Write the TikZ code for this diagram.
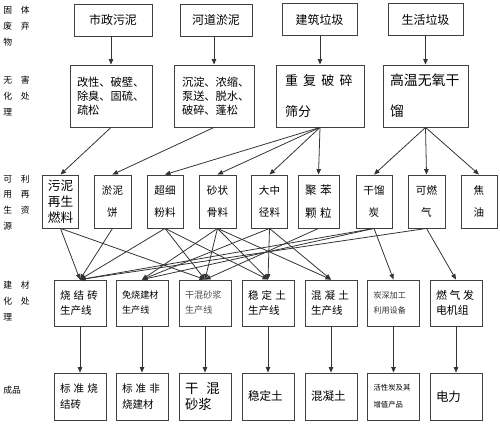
\documentclass[tikz,border=0pt]{standalone}
\usepackage{fontspec}
\setmainfont{Noto Sans CJK SC}
\usetikzlibrary{arrows.meta}
\newcommand{\gp}{\hspace{0.3em}}
\tikzset{
  box/.style={draw=black!75, line width=0.5pt, inner ysep=0pt, inner xsep=0.14cm},
  kwaste/.style={box, minimum width=1.50cm, minimum height=0.64cm, font=\fontsize{6.8}{8}\selectfont},
  ktreat/.style={box, align=left, text width=#1, minimum height=1.24cm, font=\fontsize{6.4}{8}\selectfont},
  kres/.style={box, align=center, inner xsep=0pt, minimum width=0.72cm, minimum height=1.06cm, font=\fontsize{6}{13}\selectfont},
  kline/.style={box, align=left, inner xsep=0.12cm, text width=0.80cm, minimum height=0.92cm, font=\fontsize{6}{8.5}\selectfont},
  kprod/.style={kline, minimum height=0.94cm, font=\fontsize{6}{9.6}\selectfont},
  klabel/.style={align=left, inner sep=0pt, font=\fontsize{5}{9}\selectfont},
  flow/.style={-{Triangle[length=1.1mm, width=0.9mm]}, line width=0.45pt, draw=black!80},
}

\begin{document}
\begin{tikzpicture}
    \useasboundingbox (0,0) rectangle (10.00,8.50);
    % row labels
    \node[klabel, anchor=west] (l1) at (0.06,7.98) {固\hspace{1em}体\\废\hspace{1em}弃\\物};
    \node[klabel, anchor=west] (l2) at (0.06,6.58) {无\hspace{1em}害\\化\hspace{1em}处\\理};
    \node[klabel, anchor=west] (l3) at (0.06,4.45) {可\hspace{1em}利\\用\hspace{1em}再\\生\hspace{1em}资\\源};
    \node[klabel, anchor=west] (l4) at (0.06,2.48) {建\hspace{1em}材\\化\hspace{1em}处\\理};
    \node[klabel, anchor=west] (l5) at (0.06,0.70) {成品};
    % solid waste
    \node[kwaste, minimum width=1.56cm] (sz) at (2.26,8.10) {市政污泥};
    \node[kwaste, minimum width=1.44cm] (hd) at (4.32,8.10) {河道淤泥};
    \node[kwaste] (jz) at (6.39,8.11) {建筑垃圾};
    \node[kwaste] (sh) at (8.51,8.11) {生活垃圾};
    % harmless treatment
    \node[ktreat=1.36cm] (gx) at (2.22,6.58) {改性、破壁、\\除臭、固硫、\\疏松};
    \node[ktreat=1.28cm, inner xsep=0.16cm] (cd) at (4.28,6.58) {沉淀、浓缩、\\泵送、脱水、\\破碎、蓬松};
    \node[ktreat=1.40cm, font=\fontsize{7.4}{17.6}\selectfont, inner xsep=0.18cm] (pc) at (6.40,6.58) {重\hspace{0.4em}复\hspace{0.4em}破\hspace{0.4em}碎\\筛分};
    \node[ktreat=1.42cm, font=\fontsize{7.9}{17.6}\selectfont] (gw) at (8.51,6.58) {高温无氧干\\馏};
    % recyclable resources
    \node[kres, font=\fontsize{7.2}{9}\selectfont] (r1) at (1.21,4.47) {污泥\\再生\\燃料};
    \node[kres, minimum width=0.74cm] (r2) at (2.25,4.47) {淤泥\\饼};
    \node[kres] (r3) at (3.30,4.47) {超细\\粉料};
    \node[kres, minimum width=0.74cm] (r4) at (4.35,4.47) {砂状\\骨料};
    \node[kres] (r5) at (5.39,4.47) {大中\\径料};
    \node[kres, minimum width=0.82cm, font=\fontsize{6.6}{13}\selectfont] (r6) at (6.37,4.47) {聚\gp 苯\\颗\gp 粒};
    \node[kres] (r7) at (7.48,4.47) {干馏\\炭};
    \node[kres, minimum width=0.74cm] (r8) at (8.53,4.47) {可燃\\气};
    \node[kres] (r9) at (9.58,4.47) {焦\\油};
    % building material lines
    \node[kline] (p1) at (1.60,2.44) {烧\gp 结\gp 砖\\生产线};
    \node[kline, font=\fontsize{5.2}{8.5}\selectfont] (p2) at (2.84,2.44) {免烧建材\\生产线};
    \node[kline, font=\fontsize{5.2}{8.5}\selectfont, text=black!70] (p3) at (4.10,2.44) {干混砂浆\\生产线};
    \node[kline] (p4) at (5.36,2.44) {稳\gp 定\gp 土\\生产线};
    \node[kline] (p5) at (6.62,2.44) {混\gp 凝\gp 土\\生产线};
    \node[kline, font=\fontsize{4.6}{8.5}\selectfont, text=black!80] (p6) at (7.87,2.44) {炭深加工\\利用设备};
    \node[kline, font=\fontsize{6.2}{8.5}\selectfont] (p7) at (9.12,2.44) {燃\hspace{0.25em}气\hspace{0.25em}发\\电机组};
    % products
    \node[kprod] (f1) at (1.60,0.57) {标\gp 准\gp 烧\\结砖};
    \node[kprod] (f2) at (2.84,0.57) {标\gp 准\gp 非\\烧建材};
    \node[kprod, font=\fontsize{7.6}{9.6}\selectfont] (f3) at (4.10,0.57) {干\hspace{0.6em}混\\砂浆};
    \node[kprod, font=\fontsize{6.6}{9.6}\selectfont] (f4) at (5.36,0.57) {稳定土};
    \node[kprod, font=\fontsize{6.6}{9.6}\selectfont] (f5) at (6.62,0.57) {混凝土};
    \node[kprod, font=\fontsize{4.2}{9.6}\selectfont] (f6) at (7.87,0.57) {活性炭及其\\增值产品};
    \node[kprod, font=\fontsize{7.1}{9.6}\selectfont] (f7) at (9.12,0.57) {电力};
    % waste -> treatment
    \draw[flow] (gx.north |- sz.south) -- (gx.north);
    \draw[flow] (cd.north |- hd.south) -- (cd.north);
    \draw[flow] (pc.north |- jz.south) -- (pc.north);
    \draw[flow] (gw.north |- sh.south) -- (gw.north);
    % treatment -> resources
    \draw[flow] (gx.south) -- (r1.north);
    \draw[flow] (cd.south) -- (r2.north);
    \draw[flow] (pc.south) -- (r3.north);
    \draw[flow] (pc.south) -- (r4.north);
    \draw[flow] (pc.south) -- (r5.north);
    \draw[flow] (pc.south) -- (r6.north);
    \draw[flow] (gw.south) -- (r7.north);
    \draw[flow] (gw.south) -- (r8.north);
    \draw[flow] (gw.south) -- (r9.north);
    % resources -> lines
    \draw[flow] (r1.south) -- (p1.north);
    \draw[flow] (r1.south) -- (p3.north);
    \draw[flow] (r2.south) -- (p1.north);
    \draw[flow] (r3.south) -- (p1.north);
    \draw[flow] (r3.south) -- (p3.north);
    \draw[flow] (r3.south) -- (p4.north);
    \draw[flow] (r4.south) -- (p2.north);
    \draw[flow] (r4.south) -- (p3.north);
    \draw[flow] (r4.south) -- (p4.north);
    \draw[flow] (r4.south) -- (p5.north);
    \draw[flow] (r5.south) -- (p2.north);
    \draw[flow] (r5.south) -- (p4.north);
    \draw[flow] (r5.south) -- (p5.north);
    \draw[flow] (r6.south) -- (p3.north);
    \draw[flow] (r7.south) -- (p1.north);
    \draw[flow] (r7.south) -- (p2.north);
    \draw[flow] (r7.south) -- (p6.north);
    \draw[flow] (r8.south) -- (p1.north);
    \draw[flow] (r8.south) -- (p7.north);
    % lines -> products
    \draw[flow] (p1) -- (f1);
    \draw[flow] (p2) -- (f2);
    \draw[flow] (p3) -- (f3);
    \draw[flow] (p4) -- (f4);
    \draw[flow] (p5) -- (f5);
    \draw[flow] (p6) -- (f6);
    \draw[flow] (p7) -- (f7);
  \end{tikzpicture}
\end{document}
